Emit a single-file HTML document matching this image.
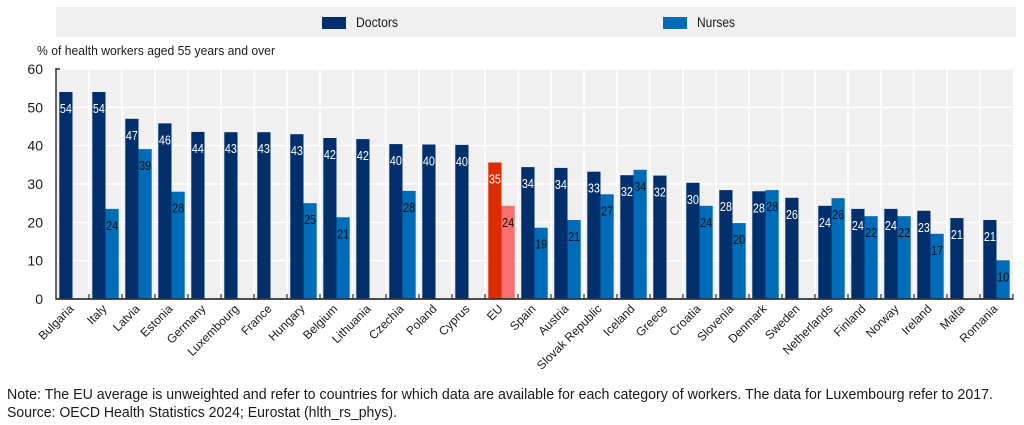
<!DOCTYPE html>
<html>
<head>
<meta charset="utf-8">
<style>
html,body{margin:0;padding:0;background:#fff;}
svg{display:block;font-family:"Liberation Sans",Arial,sans-serif;}
</style>
</head>
<body>
<svg width="1024" height="425" viewBox="0 0 1024 425" xmlns="http://www.w3.org/2000/svg">
<rect x="0" y="0" width="1024" height="425" fill="#fff"/>
<!-- Legend -->
<rect x="56" y="7" width="960" height="30" fill="#F0F0F0"/>
<rect x="322" y="17" width="24" height="12" fill="#002F6C"/>
<text x="356" y="27" font-size="13.5" fill="#1a1a1a" textLength="42" lengthAdjust="spacingAndGlyphs">Doctors</text>
<rect x="663" y="17" width="24" height="12" fill="#006BB6"/>
<text x="697" y="27" font-size="13.5" fill="#1a1a1a" textLength="38" lengthAdjust="spacingAndGlyphs">Nurses</text>

<!-- Y title -->
<text x="37" y="55" font-size="12.5" fill="#1a1a1a" textLength="238" lengthAdjust="spacingAndGlyphs">% of health workers aged 55 years and over</text>

<!-- Plot area -->
<rect x="56" y="69" width="957" height="230" fill="#F0F0F0"/>
<g stroke="#fff" stroke-width="1.5">
<line x1="56" x2="1013" y1="69" y2="69"/>
<line x1="56" x2="1013" y1="107.33" y2="107.33"/>
<line x1="56" x2="1013" y1="145.67" y2="145.67"/>
<line x1="56" x2="1013" y1="184" y2="184"/>
<line x1="56" x2="1013" y1="222.33" y2="222.33"/>
<line x1="56" x2="1013" y1="260.67" y2="260.67"/>
<line x1="89" x2="89" y1="69" y2="299"/><line x1="122" x2="122" y1="69" y2="299"/><line x1="155" x2="155" y1="69" y2="299"/><line x1="188" x2="188" y1="69" y2="299"/><line x1="221" x2="221" y1="69" y2="299"/><line x1="254" x2="254" y1="69" y2="299"/><line x1="287" x2="287" y1="69" y2="299"/><line x1="320" x2="320" y1="69" y2="299"/><line x1="353" x2="353" y1="69" y2="299"/><line x1="386" x2="386" y1="69" y2="299"/><line x1="419" x2="419" y1="69" y2="299"/><line x1="452" x2="452" y1="69" y2="299"/><line x1="485" x2="485" y1="69" y2="299"/><line x1="518" x2="518" y1="69" y2="299"/><line x1="551" x2="551" y1="69" y2="299"/><line x1="584" x2="584" y1="69" y2="299"/><line x1="617" x2="617" y1="69" y2="299"/><line x1="650" x2="650" y1="69" y2="299"/><line x1="683" x2="683" y1="69" y2="299"/><line x1="716" x2="716" y1="69" y2="299"/><line x1="749" x2="749" y1="69" y2="299"/><line x1="782" x2="782" y1="69" y2="299"/><line x1="815" x2="815" y1="69" y2="299"/><line x1="848" x2="848" y1="69" y2="299"/><line x1="881" x2="881" y1="69" y2="299"/><line x1="914" x2="914" y1="69" y2="299"/><line x1="947" x2="947" y1="69" y2="299"/><line x1="980" x2="980" y1="69" y2="299"/>
</g>

<!-- Y tick labels -->
<g font-size="14" fill="#1a1a1a" text-anchor="end">
<text x="43" y="74">60</text>
<text x="43" y="112.3">50</text>
<text x="43" y="150.7">40</text>
<text x="43" y="189">30</text>
<text x="43" y="227.3">20</text>
<text x="43" y="265.7">10</text>
<text x="43" y="304">0</text>
</g>

<!-- Doctors bars -->
<g fill="#002F6C">
<rect x="59.3" y="92" width="13.2" height="207"/>
<rect x="92.3" y="92" width="13.2" height="207"/>
<rect x="125.3" y="118.8" width="13.2" height="180.2"/>
<rect x="158.3" y="123.4" width="13.2" height="175.6"/>
<rect x="191.3" y="131.9" width="13.2" height="167.1"/>
<rect x="224.3" y="132.2" width="13.2" height="166.8"/>
<rect x="257.3" y="132.2" width="13.2" height="166.8"/>
<rect x="290.3" y="134.2" width="13.2" height="164.8"/>
<rect x="323.3" y="138" width="13.2" height="161"/>
<rect x="356.3" y="139.1" width="13.2" height="159.9"/>
<rect x="389.3" y="144.1" width="13.2" height="154.9"/>
<rect x="422.3" y="144.5" width="13.2" height="154.5"/>
<rect x="455.3" y="144.9" width="13.2" height="154.1"/>
<rect x="521.3" y="167.1" width="13.2" height="131.9"/>
<rect x="554.3" y="167.9" width="13.2" height="131.1"/>
<rect x="587.3" y="171.7" width="13.2" height="127.3"/>
<rect x="620.3" y="175.2" width="13.2" height="123.8"/>
<rect x="653.3" y="175.6" width="13.2" height="123.4"/>
<rect x="686.3" y="182.8" width="13.2" height="116.2"/>
<rect x="719.3" y="190.1" width="13.2" height="108.9"/>
<rect x="752.3" y="191.3" width="13.2" height="107.7"/>
<rect x="785.3" y="197.8" width="13.2" height="101.2"/>
<rect x="818.3" y="205.8" width="13.2" height="93.2"/>
<rect x="851.3" y="208.9" width="13.2" height="90.1"/>
<rect x="884.3" y="208.9" width="13.2" height="90.1"/>
<rect x="917.3" y="210.8" width="13.2" height="88.2"/>
<rect x="950.3" y="218.1" width="13.2" height="80.9"/>
<rect x="983.3" y="220" width="13.2" height="79"/>
</g>
<rect x="488.3" y="162.5" width="13.2" height="136.5" fill="#DD2C00"/>

<!-- Nurses bars -->
<g fill="#006BB6">
<rect x="105.5" y="208.9" width="13.2" height="90.1"/>
<rect x="138.5" y="149.1" width="13.2" height="149.9"/>
<rect x="171.5" y="191.7" width="13.2" height="107.3"/>
<rect x="303.5" y="203.2" width="13.2" height="95.8"/>
<rect x="336.5" y="217.3" width="13.2" height="81.7"/>
<rect x="402.5" y="190.9" width="13.2" height="108.1"/>
<rect x="534.5" y="227.7" width="13.2" height="71.3"/>
<rect x="567.5" y="220" width="13.2" height="79"/>
<rect x="600.5" y="194.3" width="13.2" height="104.7"/>
<rect x="633.5" y="169.8" width="13.2" height="129.2"/>
<rect x="699.5" y="205.8" width="13.2" height="93.2"/>
<rect x="732.5" y="223.1" width="13.2" height="75.9"/>
<rect x="765.5" y="190.1" width="13.2" height="108.9"/>
<rect x="831.5" y="198.2" width="13.2" height="100.8"/>
<rect x="864.5" y="216.2" width="13.2" height="82.8"/>
<rect x="897.5" y="216.2" width="13.2" height="82.8"/>
<rect x="930.5" y="233.8" width="13.2" height="65.2"/>
<rect x="996.5" y="260.3" width="13.2" height="38.7"/>
</g>
<rect x="501.5" y="205.8" width="13.2" height="93.2" fill="#F96E6E"/>

<!-- Doctor value labels -->
<g font-size="12.5" fill="#fff" text-anchor="middle">
<text x="65.9" y="113" textLength="12" lengthAdjust="spacingAndGlyphs">54</text>
<text x="98.9" y="113" textLength="12" lengthAdjust="spacingAndGlyphs">54</text>
<text x="131.9" y="139.8" textLength="12" lengthAdjust="spacingAndGlyphs">47</text>
<text x="164.9" y="144.4" textLength="12" lengthAdjust="spacingAndGlyphs">46</text>
<text x="197.9" y="152.9" textLength="12" lengthAdjust="spacingAndGlyphs">44</text>
<text x="230.9" y="153.2" textLength="12" lengthAdjust="spacingAndGlyphs">43</text>
<text x="263.9" y="153.2" textLength="12" lengthAdjust="spacingAndGlyphs">43</text>
<text x="296.9" y="155.2" textLength="12" lengthAdjust="spacingAndGlyphs">43</text>
<text x="329.9" y="159" textLength="12" lengthAdjust="spacingAndGlyphs">42</text>
<text x="362.9" y="160.1" textLength="12" lengthAdjust="spacingAndGlyphs">42</text>
<text x="395.9" y="165.1" textLength="12" lengthAdjust="spacingAndGlyphs">40</text>
<text x="428.9" y="165.5" textLength="12" lengthAdjust="spacingAndGlyphs">40</text>
<text x="461.9" y="165.9" textLength="12" lengthAdjust="spacingAndGlyphs">40</text>
<text x="494.9" y="183.5" textLength="12" lengthAdjust="spacingAndGlyphs">35</text>
<text x="527.9" y="188.1" textLength="12" lengthAdjust="spacingAndGlyphs">34</text>
<text x="560.9" y="188.9" textLength="12" lengthAdjust="spacingAndGlyphs">34</text>
<text x="593.9" y="192.7" textLength="12" lengthAdjust="spacingAndGlyphs">33</text>
<text x="626.9" y="196.2" textLength="12" lengthAdjust="spacingAndGlyphs">32</text>
<text x="659.9" y="196.6" textLength="12" lengthAdjust="spacingAndGlyphs">32</text>
<text x="692.9" y="203.8" textLength="12" lengthAdjust="spacingAndGlyphs">30</text>
<text x="725.9" y="211.1" textLength="12" lengthAdjust="spacingAndGlyphs">28</text>
<text x="758.9" y="212.3" textLength="12" lengthAdjust="spacingAndGlyphs">28</text>
<text x="791.9" y="218.8" textLength="12" lengthAdjust="spacingAndGlyphs">26</text>
<text x="824.9" y="226.8" textLength="12" lengthAdjust="spacingAndGlyphs">24</text>
<text x="857.9" y="229.9" textLength="12" lengthAdjust="spacingAndGlyphs">24</text>
<text x="890.9" y="229.9" textLength="12" lengthAdjust="spacingAndGlyphs">24</text>
<text x="923.9" y="231.8" textLength="12" lengthAdjust="spacingAndGlyphs">23</text>
<text x="956.9" y="239.1" textLength="12" lengthAdjust="spacingAndGlyphs">21</text>
<text x="989.9" y="241" textLength="12" lengthAdjust="spacingAndGlyphs">21</text>
</g>

<!-- Nurse value labels -->
<g font-size="12.5" fill="#111" text-anchor="middle">
<text x="112.1" y="229.9" textLength="12" lengthAdjust="spacingAndGlyphs">24</text>
<text x="145.1" y="170.1" textLength="12" lengthAdjust="spacingAndGlyphs">39</text>
<text x="178.1" y="212.7" textLength="12" lengthAdjust="spacingAndGlyphs">28</text>
<text x="310.1" y="224.2" textLength="12" lengthAdjust="spacingAndGlyphs">25</text>
<text x="343.1" y="238.3" textLength="12" lengthAdjust="spacingAndGlyphs">21</text>
<text x="409.1" y="211.9" textLength="12" lengthAdjust="spacingAndGlyphs">28</text>
<text x="508.1" y="226.8" textLength="12" lengthAdjust="spacingAndGlyphs">24</text>
<text x="541.1" y="248.7" textLength="12" lengthAdjust="spacingAndGlyphs">19</text>
<text x="574.1" y="241" textLength="12" lengthAdjust="spacingAndGlyphs">21</text>
<text x="607.1" y="215.3" textLength="12" lengthAdjust="spacingAndGlyphs">27</text>
<text x="640.1" y="190.8" textLength="12" lengthAdjust="spacingAndGlyphs">34</text>
<text x="706.1" y="226.8" textLength="12" lengthAdjust="spacingAndGlyphs">24</text>
<text x="739.1" y="244.1" textLength="12" lengthAdjust="spacingAndGlyphs">20</text>
<text x="772.1" y="211.1" textLength="12" lengthAdjust="spacingAndGlyphs">28</text>
<text x="838.1" y="219.2" textLength="12" lengthAdjust="spacingAndGlyphs">26</text>
<text x="871.1" y="237.2" textLength="12" lengthAdjust="spacingAndGlyphs">22</text>
<text x="904.1" y="237.2" textLength="12" lengthAdjust="spacingAndGlyphs">22</text>
<text x="937.1" y="254.8" textLength="12" lengthAdjust="spacingAndGlyphs">17</text>
<text x="1003.1" y="281.3" textLength="12" lengthAdjust="spacingAndGlyphs">10</text>
</g>

<!-- Axes -->
<g stroke="#333" fill="none">
<line x1="56" y1="68" x2="56" y2="299.5" stroke-width="1.5"/>
<line x1="56" y1="69" x2="60" y2="69" stroke-width="1.5"/>
<line x1="55.5" y1="299" x2="1013.5" y2="299" stroke-width="1.8"/>
<g stroke-width="1.2">
<line x1="89" x2="89" y1="294" y2="299"/><line x1="122" x2="122" y1="294" y2="299"/><line x1="155" x2="155" y1="294" y2="299"/><line x1="188" x2="188" y1="294" y2="299"/><line x1="221" x2="221" y1="294" y2="299"/><line x1="254" x2="254" y1="294" y2="299"/><line x1="287" x2="287" y1="294" y2="299"/><line x1="320" x2="320" y1="294" y2="299"/><line x1="353" x2="353" y1="294" y2="299"/><line x1="386" x2="386" y1="294" y2="299"/><line x1="419" x2="419" y1="294" y2="299"/><line x1="452" x2="452" y1="294" y2="299"/><line x1="485" x2="485" y1="294" y2="299"/><line x1="518" x2="518" y1="294" y2="299"/><line x1="551" x2="551" y1="294" y2="299"/><line x1="584" x2="584" y1="294" y2="299"/><line x1="617" x2="617" y1="294" y2="299"/><line x1="650" x2="650" y1="294" y2="299"/><line x1="683" x2="683" y1="294" y2="299"/><line x1="716" x2="716" y1="294" y2="299"/><line x1="749" x2="749" y1="294" y2="299"/><line x1="782" x2="782" y1="294" y2="299"/><line x1="815" x2="815" y1="294" y2="299"/><line x1="848" x2="848" y1="294" y2="299"/><line x1="881" x2="881" y1="294" y2="299"/><line x1="914" x2="914" y1="294" y2="299"/><line x1="947" x2="947" y1="294" y2="299"/><line x1="980" x2="980" y1="294" y2="299"/><line x1="1013" x2="1013" y1="294" y2="299"/>
</g>
</g>

<!-- Category labels -->
<g font-size="12" fill="#1a1a1a" text-anchor="end">
<text transform="translate(74.5,309.5) rotate(-45)">Bulgaria</text>
<text transform="translate(107.5,309.5) rotate(-45)">Italy</text>
<text transform="translate(140.5,309.5) rotate(-45)">Latvia</text>
<text transform="translate(173.5,309.5) rotate(-45)">Estonia</text>
<text transform="translate(206.5,309.5) rotate(-45)">Germany</text>
<text transform="translate(239.5,309.5) rotate(-45)">Luxembourg</text>
<text transform="translate(272.5,309.5) rotate(-45)">France</text>
<text transform="translate(305.5,309.5) rotate(-45)">Hungary</text>
<text transform="translate(338.5,309.5) rotate(-45)">Belgium</text>
<text transform="translate(371.5,309.5) rotate(-45)">Lithuania</text>
<text transform="translate(404.5,309.5) rotate(-45)">Czechia</text>
<text transform="translate(437.5,309.5) rotate(-45)">Poland</text>
<text transform="translate(470.5,309.5) rotate(-45)">Cyprus</text>
<text transform="translate(503.5,309.5) rotate(-45)">EU</text>
<text transform="translate(536.5,309.5) rotate(-45)">Spain</text>
<text transform="translate(569.5,309.5) rotate(-45)">Austria</text>
<text transform="translate(602.5,309.5) rotate(-45)">Slovak Republic</text>
<text transform="translate(635.5,309.5) rotate(-45)">Iceland</text>
<text transform="translate(668.5,309.5) rotate(-45)">Greece</text>
<text transform="translate(701.5,309.5) rotate(-45)">Croatia</text>
<text transform="translate(734.5,309.5) rotate(-45)">Slovenia</text>
<text transform="translate(767.5,309.5) rotate(-45)">Denmark</text>
<text transform="translate(800.5,309.5) rotate(-45)">Sweden</text>
<text transform="translate(833.5,309.5) rotate(-45)">Netherlands</text>
<text transform="translate(866.5,309.5) rotate(-45)">Finland</text>
<text transform="translate(899.5,309.5) rotate(-45)">Norway</text>
<text transform="translate(932.5,309.5) rotate(-45)">Ireland</text>
<text transform="translate(965.5,309.5) rotate(-45)">Malta</text>
<text transform="translate(998.5,309.5) rotate(-45)">Romania</text>
</g>

<!-- Notes -->
<g font-size="15" fill="#1a1a1a">
<text x="7" y="399" textLength="986" lengthAdjust="spacingAndGlyphs">Note: The EU average is unweighted and refer to countries for which data are available for each category of workers. The data for Luxembourg refer to 2017.</text>
<text x="7" y="417" textLength="390" lengthAdjust="spacingAndGlyphs">Source: OECD Health Statistics 2024; Eurostat (hlth_rs_phys).</text>
</g>
</svg>
</body>
</html>
